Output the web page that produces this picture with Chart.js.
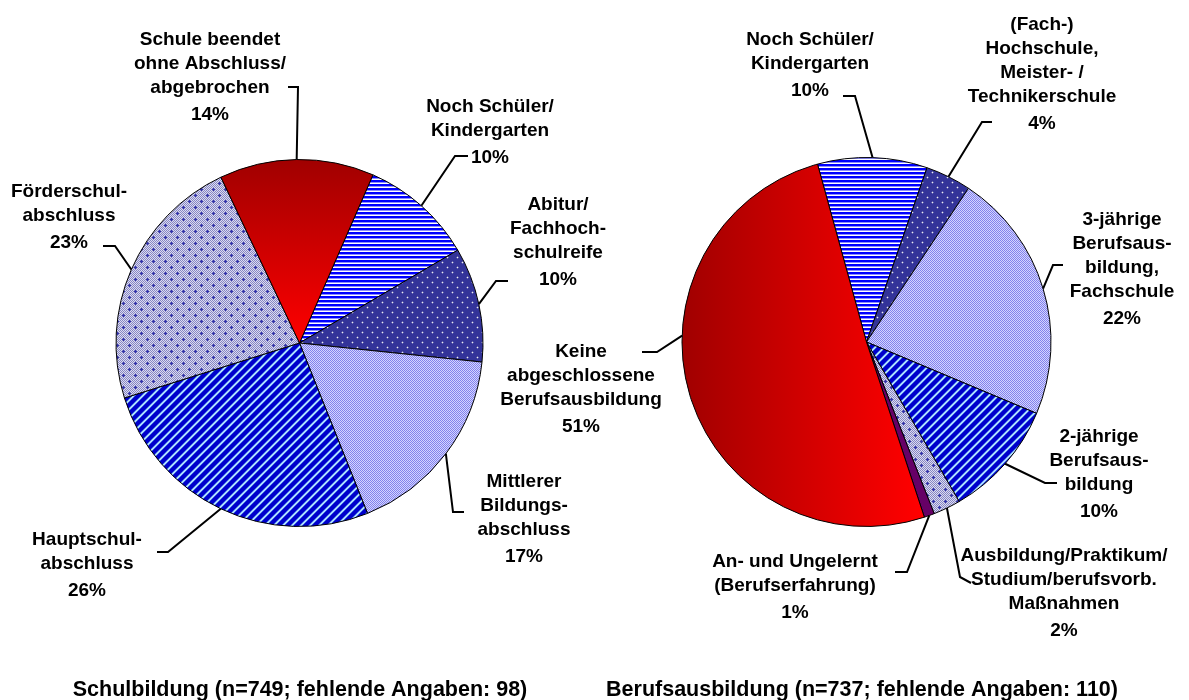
<!DOCTYPE html>
<html>
<head>
<meta charset="utf-8">
<script src="https://cdn.jsdelivr.net/npm/chart.js@4"></script>
<style>
  body { margin: 0; background: #fff; }
  #wrap { position: relative; width: 1189px; height: 700px; }
  #wrap canvas { position: absolute; left: 0; top: 0; }
</style>
</head>
<body>
<div id="wrap">
  <canvas id="schulChart" width="1189" height="700"></canvas>
  <canvas id="berufChart" width="1189" height="700"></canvas>
</div>
<script>
// data
const schulLabels = ["Noch Schüler/\nKindergarten", "Abitur/\nFachhoch-\nschulreife", "Mittlerer\nBildungs-\nabschluss",
    "Hauptschul-\nabschluss", "Förderschul-\nabschluss", "Schule beendet\nohne Abschluss/\nabgebrochen"];
const schulValues = [10.0, 10.1, 17.3, 26.2, 22.8, 13.6];
const schulTitle = "Schulbildung (n=749; fehlende Angaben: 98)";

const berufLabels = ["Noch Schüler/\nKindergarten", "(Fach-)\nHochschule,\nMeister- /\nTechnikerschule",
    "3-jährige\nBerufsaus-\nbildung,\nFachschule", "2-jährige\nBerufsaus-\nbildung",
    "Ausbildung/Praktikum/\nStudium/berufsvorb.\nMaßnahmen", "An- und Ungelernt\n(Berufserfahrung)",
    "Keine\nabgeschlossene\nBerufsausbildung"];
const berufValues = [9.6, 4.0, 22.0, 10.3, 2.4, 0.9, 50.8];
const berufTitle = "Berufsausbildung (n=737; fehlende Angaben: 110)";

// label placement (page coords): text centre x, first line y, leader elbow + end
const schulPlace = [
    { x: 490, y: 107, elbow: [455, 156], end: [468, 156] },
    { x: 558, y: 205, elbow: [496, 281], end: [508, 281] },
    { x: 524, y: 482, elbow: [453, 512], end: [464, 512] },
    { x: 87,  y: 540, elbow: [168, 552], end: [157, 552] },
    { x: 69,  y: 192, elbow: [115, 246], end: [103, 246] },
    { x: 210, y: 40,  elbow: [298, 87],  end: [288, 87] }
];
const berufPlace = [
    { x: 810,  y: 40,  elbow: [855, 96],   end: [843, 96] },
    { x: 1042, y: 25,  elbow: [982, 122],  end: [992, 122] },
    { x: 1122, y: 220, elbow: [1053, 265], end: [1063, 265] },
    { x: 1099, y: 437, elbow: [1045, 483], end: [1057, 483] },
    { x: 1064, y: 556, elbow: [960, 577],  end: [971, 583] },
    { x: 795,  y: 562, elbow: [907, 572],  end: [895, 572] },
    { x: 581,  y: 352, elbow: [657, 352],  end: [642, 352], anchorDeg: 272 }
];

const FONT = "bold 19px 'Liberation Sans', Arial, sans-serif";

// fill patterns
function tile(w, h, fn) {
    const c = document.createElement("canvas");
    c.width = w; c.height = h;
    const g = c.getContext("2d");
    for (let y = 0; y < h; y++) for (let x = 0; x < w; x++) {
        g.fillStyle = fn(x, y);
        g.fillRect(x, y, 1, 1);
    }
    return g.createPattern(c, "repeat");
}
const stripesH = tile(4, 4, (x, y) => ["#0000ff", "#0000ff", "#8c8cff", "#ffffff"][y]);
const dots = tile(10, 10, (x, y) => {
    const on = (x === 2 && y === 2) || (x === 7 && y === 7);
    const near = (Math.abs(x - 2) + Math.abs(y - 2) === 1) || (Math.abs(x - 7) + Math.abs(y - 7) === 1);
    return on ? "#e8e8f4" : near ? "#6a6ab0" : "#333399";
});
const checker = tile(2, 2, (x, y) => (x + y) % 2 ? "#d4d4ff" : "#8282ec");
const diagonal = tile(9, 9, (x, y) => ["#0000cc", "#0000cc", "#0000cc", "#0000cc", "#0000cc",
    "#3a60e0", "#a8d8ff", "#b8e4ff", "#3a60e0"][(x + y) % 9]);
const plus = tile(12, 12, (x, y) => {
    const p = (cx, cy) => (x === cx && Math.abs(y - cy) <= 1) || (y === cy && Math.abs(x - cx) <= 1);
    if (p(3, 3) || p(9, 9)) return "#3333aa";
    return (x + y) % 2 ? "#dcdcf0" : "#8686c4";
});

function redGradient(chart, dir) {
    const a = chart.chartArea;
    if (!a) return "#d00000";
    const c = chart.ctx;
    const g = dir === "v"
        ? c.createLinearGradient(0, a.top, 0, (a.top + a.bottom) / 2)
        : c.createLinearGradient(a.left, 0, a.left + a.width * 0.64, 0);
    g.addColorStop(0, "#a00000");
    g.addColorStop(1, "#ff0000");
    return g;
}

const labelPlugin = {
    id: "leaderLabels",
    afterDatasetsDraw(chart, args, opts) {
        const c = chart.ctx;
        const meta = chart.getDatasetMeta(0);
        const values = chart.data.datasets[0].data;
        const total = values.reduce((s, v) => s + v, 0);
        c.save();
        meta.data.forEach((arc, i) => {
            const p = opts.place[i];
            const ang = p.anchorDeg !== undefined
                ? (p.anchorDeg - 90) * Math.PI / 180
                : (arc.startAngle + arc.endAngle) / 2;
            const ax = arc.x + arc.outerRadius * Math.cos(ang);
            const ay = arc.y + arc.outerRadius * Math.sin(ang);
            c.strokeStyle = "#000";
            c.lineWidth = 2;
            c.beginPath();
            c.moveTo(ax, ay);
            c.lineTo(p.elbow[0], p.elbow[1]);
            c.lineTo(p.end[0], p.end[1]);
            c.stroke();

            const lines = chart.data.labels[i].split("\n");
            c.font = FONT;
            c.fillStyle = "#000";
            c.textAlign = "center";
            c.textBaseline = "middle";
            lines.forEach((t, k) => c.fillText(t, p.x, p.y + k * 24));
            const pct = Math.round(values[i] / total * 100) + "%";
            c.fillText(pct, p.x, p.y + (lines.length - 1) * 24 + 27);
        });
        c.font = "bold 21.5px 'Liberation Sans', Arial, sans-serif";
        c.textAlign = "center";
        c.textBaseline = "middle";
        c.fillText(opts.title, opts.titleX, 690);
        c.restore();
    }
};

function makePie(id, labels, values, fills, redDir, rotation, padding, place, title, titleX) {
    return new Chart(document.getElementById(id), {
        type: "pie",
        data: {
            labels: labels,
            datasets: [{
                data: values,
                backgroundColor: ctx => {
                    const f = fills[ctx.dataIndex];
                    return f === "red" ? redGradient(ctx.chart, redDir) : f;
                },
                borderColor: "#000",
                borderWidth: 1
            }]
        },
        options: {
            responsive: false,
            animation: false,
            events: [],
            rotation: rotation,
            layout: { padding: padding },
            plugins: {
                legend: { display: false },
                tooltip: { enabled: false },
                leaderLabels: { place: place, title: title, titleX: titleX }
            }
        },
        plugins: [labelPlugin]
    });
}

makePie("schulChart", schulLabels, schulValues,
    [stripesH, dots, checker, diagonal, plus, "red"], "v",
    23.6, { left: 115.5, right: 705.5, top: 159, bottom: 173 },
    schulPlace, schulTitle, 300);

makePie("berufChart", berufLabels, berufValues,
    [stripesH, dots, checker, diagonal, plus, "#660066", "red"], "h",
    -15.4, { left: 681.5, right: 137.5, top: 157, bottom: 173 },
    berufPlace, berufTitle, 862);
</script>
</body>
</html>
